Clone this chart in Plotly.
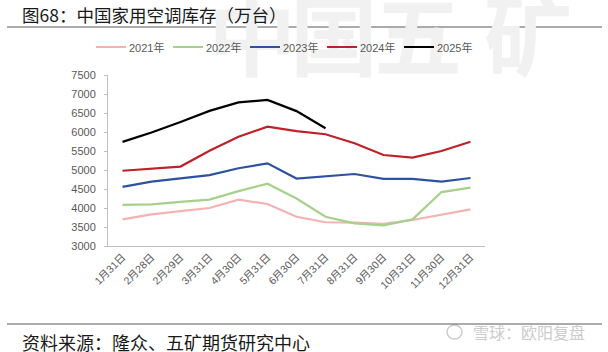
import plotly.graph_objects as go

categories = ["1月31日", "2月28日", "2月29日", "3月31日", "4月30日", "5月31日", "6月30日",
              "7月31日", "8月31日", "9月30日", "10月31日", "11月30日", "12月31日"]

y2021 = [3700, 3830, 3920, 4000, 4220, 4105, 3770, 3625, 3615, 3580, 3685, 3815, 3965]
y2022 = [4080, 4095, 4160, 4220, 4445, 4640, 4250, 3770, 3595, 3545, 3700, 4420, 4535]
y2023 = [4555, 4695, 4780, 4865, 5045, 5175, 4775, 4840, 4895, 4765, 4765, 4695, 4790]
y2024 = [4980, 5040, 5090, 5505, 5875, 6140, 6025, 5940, 5705, 5395, 5325, 5500, 5745]
y2025 = [5740, 5985, 6265, 6555, 6780, 6845, 6550, 6100]

series_names = ["2021年", "2022年", "2023年", "2024年", "2025年"]
series_values = [y2021, y2022, y2023, y2024, y2025]
series_colors = ["#f4b3b3", "#a6d18c", "#2f52a0", "#c0202a", "#000000"]

W, H = 608, 352
L, R, T, B = 108, 485, 75, 246

fig = go.Figure()
for name, vals, col in zip(series_names, series_values, series_colors):
    fig.add_trace(go.Scatter(x=categories[:len(vals)], y=vals, name=name, mode="lines",
                             line=dict(color=col, width=2.2), showlegend=False))

def px(x):
    return (x - L) / (R - L)

def py(y):
    return (B - y) / (B - T)

font_main = "Liberation Sans, Arial, Noto Sans CJK SC, sans-serif"
cjk = "Noto Sans CJK SC"

fig.update_layout(
    width=W, height=H,
    margin=dict(l=L, r=W - R, t=T, b=H - B, pad=0),
    paper_bgcolor="white", plot_bgcolor="rgba(0,0,0,0)",
    font=dict(family=font_main, color="#595959", size=11),
    showlegend=False,
    xaxis=dict(type="category", showgrid=False, showline=True, linecolor="#bfbfbf", linewidth=1,
               tickangle=-45, tickfont=dict(size=10.5, color="#595959"), ticks="",
               range=[-0.5, 12.5], fixedrange=True),
    yaxis=dict(range=[3000, 7500], dtick=500, showgrid=False, showline=True, linecolor="#bfbfbf",
               linewidth=1, ticks="outside", ticklen=3, tickcolor="#bfbfbf", ticklabelstandoff=6,
               tickfont=dict(size=11, color="#595959"), zeroline=False, fixedrange=True),
)

# faint background watermark (first annotations -> drawn beneath later ones)
for ch, cx in zip("中国五矿", [252, 334, 418, 528]):
    fig.add_annotation(text="<b>" + ch + "</b>", xref="paper", yref="paper", x=px(cx), y=py(30),
                       xanchor="center", yanchor="middle", showarrow=False,
                       font=dict(size=88, color="#f1f1f1", family=cjk))

# title
fig.add_annotation(text="图68：中国家用空调库存（万台）", xref="paper", yref="paper",
                   x=px(20), y=py(14), xanchor="left", yanchor="middle", showarrow=False,
                   font=dict(size=17.5, color="#1a1a1a", family=cjk))
# source
fig.add_annotation(text="资料来源：隆众、五矿期货研究中心", xref="paper", yref="paper",
                   x=px(20), y=py(342), xanchor="left", yanchor="middle", showarrow=False,
                   font=dict(size=18, color="#1a1a1a", family=cjk))
# watermark bottom-right
fig.add_annotation(text="雪球：欧阳复盘", xref="paper", yref="paper",
                   x=px(587), y=py(332), xanchor="right", yanchor="middle", showarrow=False,
                   font=dict(size=16, color="#cccccc", family=cjk))
fig.add_shape(type="circle", xref="paper", yref="paper", x0=px(447), x1=px(462),
              y0=py(339), y1=py(325), line=dict(color="#cccccc", width=1.5))

# manual legend (line swatches as thin coloured annotation boxes so they sit above the watermark)
leg_x = [96, 173, 250, 327, 404]
for x0, name, col in zip(leg_x, series_names, series_colors):
    fig.add_annotation(text=" ", xref="paper", yref="paper", x=px(x0), y=py(47),
                       xanchor="left", yanchor="middle", showarrow=False,
                       width=30, height=2, bgcolor=col, borderpad=0, borderwidth=0,
                       font=dict(size=1, color=col))
    fig.add_annotation(text=name, xref="paper", yref="paper", x=px(x0 + 31), y=py(47),
                       xanchor="left", yanchor="middle", showarrow=False,
                       font=dict(size=11, color="#595959", family=font_main))

# separator lines
for yy in (27, 324):
    fig.add_shape(type="line", xref="paper", yref="paper", x0=px(7), x1=px(602),
                  y0=py(yy), y1=py(yy), line=dict(color="#595959", width=1))

fig.write_html("out.html")
